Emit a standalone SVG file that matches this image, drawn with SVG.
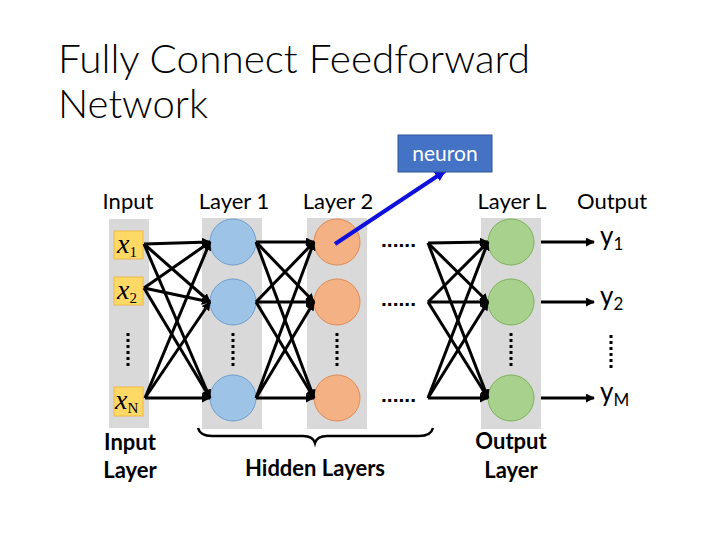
<svg xmlns="http://www.w3.org/2000/svg" width="720" height="540" viewBox="0 0 720 540">
<defs>
<marker id="ah" viewBox="0 0 10 10" refX="9" refY="5" markerWidth="9" markerHeight="9" markerUnits="userSpaceOnUse" orient="auto">
<path d="M0,0 L10,5 L0,10 z" fill="#000"/>
</marker>
<marker id="bh" viewBox="0 0 10 10" refX="9" refY="5" markerWidth="11" markerHeight="11" markerUnits="userSpaceOnUse" orient="auto">
<path d="M0,0 L10,5 L0,10 z" fill="#1010DD"/>
</marker>
<style>
.t{font-family:Lato,"Liberation Sans",sans-serif;fill:#000}
.title{font-size:40px;font-weight:300}
.lab{font-size:22px;text-anchor:middle}
.bl{font-size:22px;font-weight:bold;text-anchor:middle}
.col{fill:#D9D9D9}
.box{fill:#FFD966;stroke:#EDB94A;stroke-width:1}
.bc{fill:#9DC3E6;stroke:#6F9FD0;stroke-width:1}
.oc{fill:#F4B183;stroke:#E08A55;stroke-width:1}
.gc{fill:#A9D18E;stroke:#7DB25A;stroke-width:1}
.w{stroke:#000;stroke-width:3;fill:none;marker-end:url(#ah)}
.vd{stroke:#000;stroke-width:3;stroke-dasharray:3 3}
.xs{font-family:"Liberation Serif",serif;font-size:28px;font-style:italic}
.sub{font-family:"Liberation Serif",serif;font-size:15px;font-style:normal}
.y{font-family:Lato,"Liberation Sans",sans-serif;font-size:26px}
.ys{font-size:17px}
.dots{font-family:"Liberation Sans",sans-serif;font-size:21px;font-weight:bold}
</style>
</defs>
<rect width="720" height="540" fill="#fff"/>
<g id="title">
<text class="t title" x="58" y="73" textLength="472" lengthAdjust="spacingAndGlyphs">Fully Connect Feedforward</text>
<text class="t title" x="58" y="118" textLength="150" lengthAdjust="spacingAndGlyphs">Network</text>
</g>
<g id="column-labels">
<text class="t lab" x="128" y="209">Input</text>
<text class="t lab" x="234" y="209">Layer 1</text>
<text class="t lab" x="338" y="209">Layer 2</text>
<text class="t lab" x="512" y="209">Layer L</text>
<text class="t lab" x="612" y="209">Output</text>
</g>
<g id="columns">
<rect class="col" x="109" y="219" width="40" height="209"/>
<rect class="col" x="202" y="218" width="60" height="211"/>
<rect class="col" x="307" y="218" width="60" height="211"/>
<rect class="col" x="481" y="218" width="60" height="211"/>
</g>
<g id="input-x1"><rect class="box" x="114" y="231" width="29" height="28"/><text class="xs" x="117" y="253">x<tspan class="sub" dy="4">1</tspan></text></g>
<g id="input-x2"><rect class="box" x="114" y="277" width="29" height="28"/><text class="xs" x="117" y="299">x<tspan class="sub" dy="4">2</tspan></text></g>
<g id="input-xN"><rect class="box" x="114" y="387" width="29" height="29"/><text class="xs" x="115" y="409">x<tspan class="sub" dy="4">N</tspan></text></g>
<g id="layer1"><circle class="bc" cx="233" cy="242" r="23"/><circle class="bc" cx="233" cy="302" r="23"/><circle class="bc" cx="233" cy="398" r="23"/></g>
<g id="layer2"><circle class="oc" cx="337" cy="242" r="23"/><circle class="oc" cx="337" cy="302" r="23"/><circle class="oc" cx="337" cy="398" r="23"/></g>
<g id="layerL"><circle class="gc" cx="511" cy="242" r="23"/><circle class="gc" cx="511" cy="302" r="23"/><circle class="gc" cx="511" cy="398" r="23"/></g>
<g id="vertical-dots">
<line class="vd" x1="128" y1="333" x2="128" y2="369"/>
<line class="vd" x1="233" y1="333" x2="233" y2="369"/>
<line class="vd" x1="337" y1="333" x2="337" y2="369"/>
<line class="vd" x1="511" y1="333" x2="511" y2="369"/>
<line class="vd" x1="611" y1="335" x2="611" y2="371"/>
</g>
<g id="ellipses">
<text class="dots" x="381" y="247">......</text>
<text class="dots" x="381" y="306">......</text>
<text class="dots" x="381" y="402">......</text>
</g>
<g id="connectors">
<path class="w" d="M144,244 L210,242"/><path class="w" d="M144,244 L210,302"/><path class="w" d="M144,244 L210,398"/>
<path class="w" d="M144,288 L210,242"/><path class="w" d="M144,288 L210,302"/><path class="w" d="M144,288 L210,398"/>
<path class="w" d="M145,398 L210,242"/><path class="w" d="M145,398 L210,302"/><path class="w" d="M145,398 L210,398"/>
<path class="w" d="M256,242 L314,242"/><path class="w" d="M256,242 L314,302"/><path class="w" d="M256,242 L314,398"/>
<path class="w" d="M256,302 L314,242"/><path class="w" d="M256,302 L314,302"/><path class="w" d="M256,302 L314,398"/>
<path class="w" d="M256,398 L314,242"/><path class="w" d="M256,398 L314,302"/><path class="w" d="M256,398 L314,398"/>
<path class="w" d="M428,243 L488,242"/><path class="w" d="M428,243 L488,302"/><path class="w" d="M428,243 L488,398"/>
<path class="w" d="M428,302 L488,242"/><path class="w" d="M428,302 L488,302"/><path class="w" d="M428,302 L488,398"/>
<path class="w" d="M428,398 L488,242"/><path class="w" d="M428,398 L488,302"/><path class="w" d="M428,398 L488,398"/>
<path class="w" d="M541,242 L594,242"/><path class="w" d="M541,302 L594,302"/><path class="w" d="M541,398 L594,398"/>
<path d="M335,244 L445,171" stroke="#1010DD" stroke-width="4" fill="none" marker-end="url(#bh)"/>
</g>
<g id="outputs">
<text class="y" x="600" y="245">y<tspan class="ys" dy="5">1</tspan></text>
<text class="y" x="600" y="305">y<tspan class="ys" dy="5">2</tspan></text>
<text class="y" x="600" y="401">y<tspan class="ys" dy="5">M</tspan></text>
</g>
<g id="neuron">
<rect x="398" y="135" width="94" height="37" fill="#4472C4" stroke="#2F5597" stroke-width="1"/>
<text class="t" x="445" y="161" font-size="21" text-anchor="middle" style="fill:#fff">neuron</text>
</g>
<g id="brace">
<path d="M198,428 Q200,436 212,436 L303,436 Q313,436 315,443 Q317,436 327,436 L419,436 Q431,436 433,428" stroke="#000" stroke-width="2.5" fill="none"/>
</g>
<g id="bottom-labels">
<text class="t bl" x="130" y="450">Input</text>
<text class="t bl" x="130" y="478">Layer</text>
<text class="t bl" x="315" y="476">Hidden Layers</text>
<text class="t bl" x="511" y="449">Output</text>
<text class="t bl" x="511" y="478">Layer</text>
</g>
</svg>
